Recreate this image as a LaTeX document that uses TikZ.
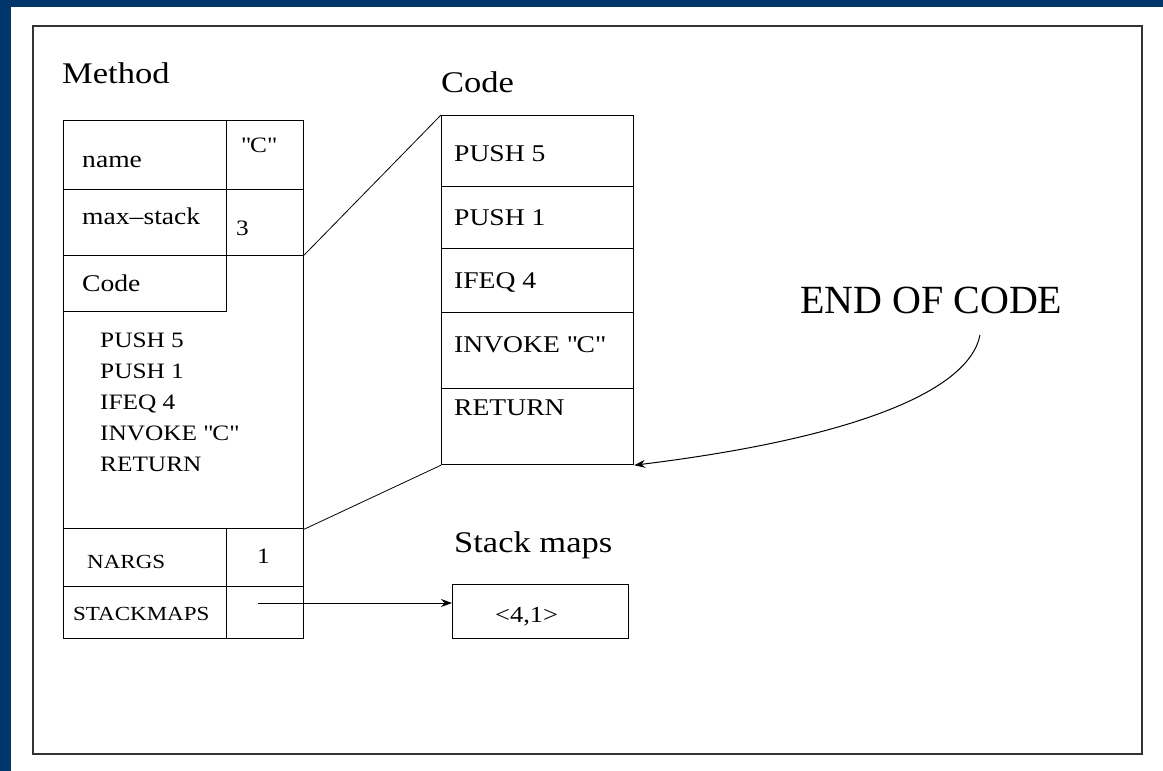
\documentclass[tikz,border=0pt]{standalone}
\usepackage{fontspec}
\setmainfont{Liberation Serif}[FakeStretch=1.15]
\newfontfamily\plainserif{Liberation Serif}
\usetikzlibrary{arrows.meta}
\definecolor{slideblue}{RGB}{0,54,107}

\begin{document}
\begin{tikzpicture}[x=1pt,y=-1pt,
	cell/.style={draw, line width=1.2pt, inner sep=0pt, anchor=north west},
	txt/.style={anchor=base west, inner sep=0pt},
	title/.style={txt, font=\fontsize{30}{36}\selectfont},
	field/.style={txt, font=\fontsize{24}{29}\selectfont},
	small/.style={txt, font=\fontsize{20}{24}\selectfont},
	ptr/.style={line width=1pt, -{Stealth[length=11pt,width=8pt]}}]

% background
    \useasboundingbox (0,0) rectangle (1163,771);
    \fill[slideblue] (0,0) rectangle (1163,771);
    \fill[white] (11,7) rectangle (1163,771);
    \draw[line width=1.3pt, black!80] (33,26) rectangle (1142,754);

% method table
	\node[title] (mtitle) at (62,83) {Method};
	\foreach \row/\ya/\hgt in {name/120/69, max/189/66, nargs/528/58, maps/586/52}{
		\node[cell, minimum width=163pt, minimum height=\hgt pt] (\row L) at (63,\ya) {};
		\node[cell, minimum width=77pt, minimum height=\hgt pt] (\row V) at (226,\ya) {};
	}
	\node[cell, minimum width=240pt, minimum height=273pt] (marea) at (63,255) {};
	\node[cell, minimum width=163pt, minimum height=56pt] (codeL) at (63,255) {};

	\node[field] (tname) at (82,167) {name};
	\node[field, font=\fontsize{22}{26}\selectfont] (vname) at (241,152) {\textquotedbl C\textquotedbl};
	\node[field] (tmax) at (82,224) {max–stack};
	\node[field, font=\fontsize{22}{26}\selectfont] (vmax) at (236,235) {3};
	\node[field] (tcode) at (82,291) {Code};
	\foreach \n/\instr in {0/PUSH 5, 1/PUSH 1, 2/IFEQ 4, 3/INVOKE \textquotedbl C\textquotedbl, 4/RETURN}{
		\node[txt, font=\fontsize{22}{26}\selectfont] (m\n) at (100,{347+31*\n}) {\instr};
	}
	\node[small] (tnargs) at (87,568) {NARGS};
	\node[small, font=\fontsize{22}{26}\selectfont] (vnargs) at (257,563) {1};
	\node[small] (tmaps) at (73,620) {STACKMAPS};

% code array
	\node[title] (ctitle) at (441,92) {Code};
	\foreach \i/\ya/\hgt in {1/115/71, 2/186/62, 3/248/64, 4/312/76, 5/388/76}{
		\node[cell, minimum width=192pt, minimum height=\hgt pt] (c\i) at (441,\ya) {};
	}
	\foreach \i/\yb/\instr in {1/161/PUSH 5, 2/225/PUSH 1, 3/288/IFEQ 4, 4/352/INVOKE \textquotedbl C\textquotedbl, 5/415/RETURN}{
		\node[field] (ct\i) at (454,\yb) {\instr};
	}
	\draw[line width=0.8pt] (marea.north east) -- (c1.north west);
	\draw[line width=0.8pt] (marea.south east) -- (c5.south west);

% stack maps
	\node[title] (stitle) at (454,552) {Stack maps};
	\node[cell, minimum width=176pt, minimum height=54pt] (smap) at (452,584) {};
	\node[field, font=\fontsize{23}{27}\selectfont] (sval) at (495,622) {<4,1>};
	\coordinate (mptr) at (258,603);
	\draw[ptr] (mptr) -- (smap.west |- mptr);

% end of code
	\node[txt, font=\plainserif\fontsize{40}{48}\selectfont] (eoc) at (800,313) {END OF CODE};
	\coordinate (eocfoot) at (980,335);
	\draw[ptr] (eocfoot) .. controls (968,395) and (840,440) .. (c5.south east);

\end{tikzpicture}
\end{document}
